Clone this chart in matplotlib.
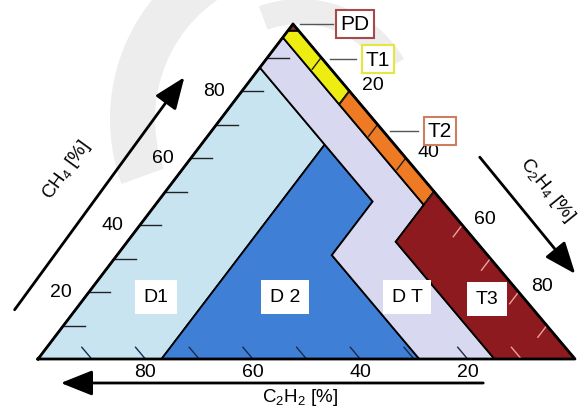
import matplotlib.pyplot as plt
import numpy as np
from matplotlib.patches import Polygon, FancyArrowPatch, Wedge

plt.rcParams['font.family'] = ['Liberation Sans', 'DejaVu Sans']
plt.rcParams['mathtext.fontset'] = 'custom'
plt.rcParams['mathtext.rm'] = 'Liberation Sans'

# Duval triangle zones, corners given as (C2H2, C2H4, CH4) in %
zone_names = ['D1', 'D2', 'DT', 'T1', 'T2', 'T3', 'PD']
zone_pd = [(0, 0, 100), (2, 0, 98), (0, 2, 98)]
zone_t1 = [(0, 2, 98), (2, 0, 98), (4, 0, 96), (4, 20, 76), (0, 20, 80)]
zone_t2 = [(0, 20, 80), (4, 20, 76), (4, 50, 46), (0, 50, 50)]
zone_t3 = [(0, 50, 50), (15, 50, 35), (15, 85, 0), (0, 100, 0)]
zone_d1 = [(13, 0, 87), (100, 0, 0), (77, 23, 0), (13, 23, 64)]
zone_d2 = [(13, 23, 64), (77, 23, 0), (29, 71, 0), (29, 40, 31), (13, 40, 47)]
zone_dt = [(4, 0, 96), (13, 0, 87), (13, 40, 47), (29, 40, 31), (29, 71, 0),
           (15, 85, 0), (15, 50, 35), (4, 50, 46)]
zone_colors = {'D1': '#c8e4f0', 'D2': '#3f7fd6', 'DT': '#d8d8f0',
               'T1': '#eded12', 'T2': '#ee7a24', 'T3': '#8c1a1e', 'PD': '#8a2c34'}

tick_values = [10, 20, 30, 40, 50, 60, 70, 80, 90]
label_values = [20, 40, 60, 80]

# corners of the triangle on the page (pixels)
BL = np.array([38.0, 360.0])    # 100 % C2H2
BR = np.array([575.0, 360.0])   # 100 % C2H4
TOP = np.array([293.0, 25.0])   # 100 % CH4


def tern(c2h2, c2h4, ch4):
    return (c2h2 * BL + c2h4 * BR + ch4 * TOP) / 100.0


fig = plt.figure(figsize=(5.78, 4.10), dpi=100)
ax = fig.add_axes([0, 0, 1, 1])
ax.set_xlim(0, 578)
ax.set_ylim(410, 0)
ax.axis('off')

# faint watermark arc in the background
ax.add_patch(Wedge((300, 120), 190, 160, 245, width=45, fc='#ededed', ec='none', zorder=0))
ax.add_patch(Wedge((300, 120), 120, 250, 330, width=25, fc='#ededed', ec='none', zorder=0))

# zones
zones = {'D1': zone_d1, 'D2': zone_d2, 'DT': zone_dt, 'T1': zone_t1,
         'T2': zone_t2, 'T3': zone_t3, 'PD': zone_pd}
for name in zone_names:
    pts = [tern(*p) for p in zones[name]]
    ax.add_patch(Polygon(pts, closed=True, fc=zone_colors[name], ec='black', lw=1.3, zorder=2))

# outline
outline = np.array([BL, BR, TOP, BL])
ax.plot(outline[:, 0], outline[:, 1], color='black', lw=2, zorder=4)

# ticks on the bottom side (C2H2)
for k in tick_values:
    p0 = tern(k, 100 - k, 0)
    p1 = tern(k, 100 - k - 3.5, 3.5)
    col = '#f0a0a0' if k < 15 else '#1a2a50'
    ax.plot([p0[0], p1[0]], [p0[1], p1[1]], color=col, lw=1, zorder=3)
# ticks on the left side (CH4)
for k in tick_values:
    p0 = tern(100 - k, 0, k)
    p1 = tern(100 - k - 4, 4, k)
    ax.plot([p0[0], p1[0]], [p0[1], p1[1]], color='#222222', lw=1, zorder=3)
# ticks on the right side (C2H4)
for k in tick_values:
    p0 = tern(0, k, 100 - k)
    p1 = tern(3.5, k, 100 - k - 3.5)
    col = '#f0a0a0' if k > 50 else '#222222'
    ax.plot([p0[0], p1[0]], [p0[1], p1[1]], color=col, lw=1, zorder=3)

# tick labels
for k in label_values:
    p = tern(100 - k, k, 0)
    ax.text(p[0], p[1] + 13, str(100 - k), ha='center', va='center', fontsize=14)
    p = tern(100 - k, 0, k)
    ax.text(p[0] - 28, p[1], str(k), ha='center', va='center', fontsize=14)
    p = tern(0, k, 100 - k)
    ax.text(p[0] + 23, p[1] - 6, str(k), ha='center', va='center', fontsize=14)

# zone labels in white boxes
inner_labels = [('D1', 156, 298), ('D 2', 285, 298), ('D T', 407, 298), ('T3', 487, 300)]
for txt, x, y in inner_labels:
    ax.text(x, y, txt, ha='center', va='center', fontsize=14, zorder=5,
            bbox=dict(boxstyle='square,pad=0.45', fc='white', ec='none'))

outer_labels = [('PD', 355, 25, '#a84848', 300), ('T1', 378, 60, '#e6e640', 330),
                ('T2', 440, 132, '#cc7e5e', 390)]
for txt, x, y, ec, x0 in outer_labels:
    ax.plot([x0, x - 22], [y, y], color='#555555', lw=1, zorder=3)
    ax.text(x, y, txt, ha='center', va='center', fontsize=15, zorder=5,
            bbox=dict(boxstyle='square,pad=0.2', fc='white', ec=ec, lw=1.5))

# axis arrows
arrow_kw = dict(arrowstyle='-|>,head_length=1.5,head_width=0.6', color='black', lw=2,
                mutation_scale=13, zorder=4)
ax.add_patch(FancyArrowPatch((13, 313), (186, 76), **arrow_kw))
ax.add_patch(FancyArrowPatch((478, 156), (577, 277), **arrow_kw))
ax.add_patch(FancyArrowPatch((486, 384), (58, 384), **arrow_kw))

ax.text(67, 170, r'CH$_4$ [%]', rotation=54, ha='center', va='center', fontsize=13.5)
ax.text(547, 190, r'C$_2$H$_4$ [%]', rotation=-51, ha='center', va='center', fontsize=13.5)
ax.text(300, 398, r'C$_2$H$_2$ [%]', ha='center', va='center', fontsize=13.5)

fig.savefig('out.png', dpi=100)
